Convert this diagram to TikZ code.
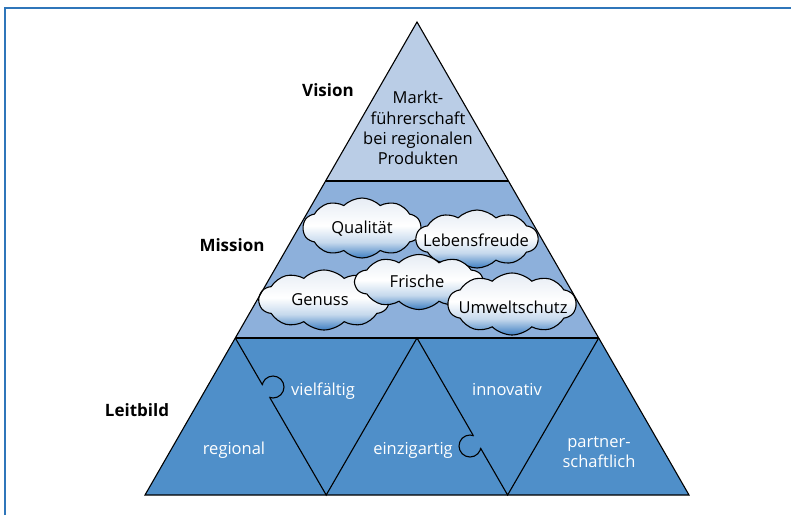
\documentclass[tikz,border=0pt]{standalone}
\usepackage{fontspec}
\setmainfont{Open Sans}
\usetikzlibrary{shapes.symbols}

\definecolor{framec}{HTML}{2F76BA}
\definecolor{visionc}{HTML}{BACDE6}
\definecolor{missionc}{HTML}{8DB0DB}
\definecolor{leitc}{HTML}{4F8FC9}
\definecolor{cloudblue}{HTML}{3F7FC2}
\definecolor{cloudtop}{HTML}{E6ECF4}

% vertical shading for the clouds: blue at the bottom, pale above
\pgfdeclareverticalshading{cloudshade}{100bp}{%
  color(0bp)=(cloudblue); color(25bp)=(cloudblue); color(38bp)=(cloudblue!30!white);
  color(52bp)=(white); color(75bp)=(cloudtop); color(100bp)=(cloudtop)}

\tikzset{
  edge/.style={draw=black, line width=1.1pt, line join=miter},
  level/.style={font=\fontsize{17}{20}\selectfont\bfseries, anchor=center},
  intext/.style={font=\fontsize{16.5}{20.3}\selectfont, align=center, text=black},
  whitetext/.style={font=\fontsize{16.5}{20}\selectfont, align=center, text=white},
  cloudbox/.style={cloud, cloud puffs=10, cloud puff arc=90, cloud ignores aspect,
    draw=black, line width=1.1pt, shading=cloudshade, inner sep=0pt},
  cloudtext/.style={font=\fontsize{16.5}{20}\selectfont, text=black},
}

\begin{document}
\begin{tikzpicture}[x=1pt,y=-1pt]
\useasboundingbox (0,0) rectangle (791,515);

% frame
\draw[framec, line width=2pt] (5,515) -- (5,8) -- (791,8);

% pyramid corners
\coordinate (apex) at (417,22);
\coordinate (v1) at (325.6,181);
\coordinate (v2) at (508.4,181);
\coordinate (m1) at (235.3,338);
\coordinate (m2) at (417,338);
\coordinate (m3) at (598.7,338);
\coordinate (b1) at (145,495);
\coordinate (b2) at (326.2,495);
\coordinate (b3) at (507.6,495);
\coordinate (b4) at (689,495);

% bands
\fill[visionc] (apex) -- (v2) -- (v1) -- cycle;
\fill[missionc] (v1) -- (v2) -- (m3) -- (m1) -- cycle;
\fill[leitc] (m1) -- (m3) -- (b4) -- (b1) -- cycle;

% mission clouds, each with its word on top
\node[cloudbox, minimum width=118pt, minimum height=60pt] (qual) at (362,228) {};
\node[cloudtext] (qualt) at (362,229) {Qualität};
\node[cloudbox, minimum width=122pt, minimum height=58pt] (lebens) at (477,239) {};
\node[cloudtext] (lebenst) at (476,240) {Lebensfreude};
\node[cloudbox, minimum width=130pt, minimum height=60pt] (genuss) at (324,300) {};
\node[cloudtext] (genusst) at (320,300) {Genuss};
\node[cloudbox, minimum width=128pt, minimum height=55pt] (frische) at (419,282) {};
\node[cloudtext] (frischet) at (417,281) {Frische};
\node[cloudbox, minimum width=128pt, minimum height=62pt] (umwelt) at (512,304) {};
\node[cloudtext] (umweltt) at (513,307) {Umweltschutz};

% outlines
\draw[edge] (apex) -- (b4) -- (b1) -- cycle;
\draw[edge] (v1) -- (v2);
\draw[edge] (m1) -- (m3);
\draw[edge] (m1) -- (b2) -- (m2) -- (b3) -- (m3);

% puzzle knobs
\coordinate (k1) at (273,387);
\coordinate (k2) at (470,446);
\fill[leitc] (k1) circle[radius=11];
\fill[leitc] (k2) circle[radius=11];
\begin{scope}
  \clip (m1) -- (b2) -- ++(100,0) -- ++(-91,-157) -- cycle;
  \draw[black, line width=1.1pt] (k1) circle[radius=11];
\end{scope}
\begin{scope}
  \clip (m2) -- (b3) -- ++(-100,0) -- ++(-91,-157) -- cycle;
  \draw[black, line width=1.1pt] (k2) circle[radius=11];
\end{scope}

% texts
\node[intext] (vtext) at (418,128) {Markt-\\führerschaft\\bei regionalen\\Produkten};
\node[whitetext] (t1) at (234,450) {regional};
\node[whitetext] (t2) at (323,391) {vielfältig};
\node[whitetext] (t3) at (413,450) {einzigartig};
\node[whitetext] (t4) at (507,390) {innovativ};
\node[whitetext] (t5) at (599,452) {partner-\\schaftlich};

% level labels
\node[level] (lv) at (328,90) {Vision};
\node[level] (lm) at (232,245) {Mission};
\node[level] (ll) at (137,410) {Leitbild};
\end{tikzpicture}
\end{document}
